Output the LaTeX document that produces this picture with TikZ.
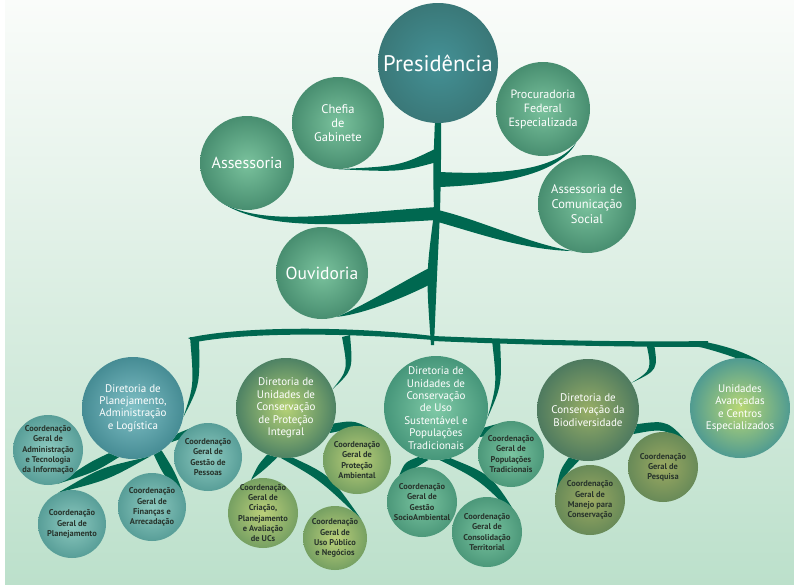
\documentclass[tikz,border=0pt]{standalone}
\usepackage{fontspec}
\setmainfont{PT Sans}
\usetikzlibrary{backgrounds}

\definecolor{brgreen}{RGB}{0,104,80}
\definecolor{bgtop}{RGB}{250,252,250}
\definecolor{bgbot}{RGB}{188,224,203}
\definecolor{txtdark}{RGB}{40,52,44}
\definecolor{presin}{RGB}{68,145,150}
\definecolor{presout}{RGB}{58,120,120}
\definecolor{topin}{RGB}{122,194,157}
\definecolor{topout}{RGB}{72,142,112}
\definecolor{dplin}{RGB}{128,192,198}
\definecolor{dplout}{RGB}{70,140,148}
\definecolor{sbtin}{RGB}{142,202,192}
\definecolor{sbtout}{RGB}{88,158,152}
\definecolor{dpiin}{RGB}{182,210,118}
\definecolor{dpiout}{RGB}{78,130,100}
\definecolor{sboin}{RGB}{188,208,122}
\definecolor{sboout}{RGB}{118,160,98}
\definecolor{dusin}{RGB}{128,202,167}
\definecolor{dusout}{RGB}{70,150,122}
\definecolor{sbgin}{RGB}{122,196,160}
\definecolor{sbgout}{RGB}{76,152,122}
\definecolor{dbioin}{RGB}{152,174,102}
\definecolor{dbioout}{RGB}{78,122,95}
\definecolor{sbbin}{RGB}{156,170,98}
\definecolor{sbbout}{RGB}{104,138,88}
\definecolor{unidin}{RGB}{186,216,116}
\definecolor{unidout}{RGB}{80,155,145}

\begin{document}
\begin{tikzpicture}[x=1pt,y=-1pt,
	ball/.style={circle,inner sep=-15pt,align=center,text=white},
	topball/.style={ball,inner color=topin,outer color=topout,font=\fontsize{12.5}{14}\selectfont},
	dirball/.style={ball,font=\fontsize{11}{12.4}\selectfont},
	subball/.style={ball,text=txtdark,font=\bfseries\fontsize{8.4}{10.2}\selectfont},
	branch/.style={fill=brgreen}]
	\useasboundingbox (0,0) rectangle (794,584);
	\begin{scope}[on background layer]
	\fill[white] (0,0) rectangle (794,584);
	\shade[top color=bgtop,bottom color=bgbot] (5,0) rectangle (794,584);
	\end{scope}
	
	\node[ball,minimum size=120pt,inner color=presin,outer color=presout,font=\fontsize{22.5}{24}\selectfont] (pres) at (438,63) {Presidência};
	\node[topball,minimum size=92pt] (chefia) at (338,123) {Chefia\\de\\Gabinete};
	\node[topball,minimum size=94pt,font=\fontsize{16}{18}\selectfont] (asses) at (247,163) {Assessoria};
	\node[topball,minimum size=94pt,font=\fontsize{12}{14}\selectfont] (procur) at (543,109) {Procuradoria\\Federal\\Especializada};
	\node[topball,minimum size=98pt,font=\fontsize{12.5}{15}\selectfont] (ascom) at (587,204) {Assessoria de\\Comunicação\\Social};
	\node[topball,minimum size=92pt,font=\fontsize{17.5}{19}\selectfont] (ouvid) at (322,273) {Ouvidoria};
	
	\node[dirball,minimum size=102pt,inner color=dplin,outer color=dplout] (dplan) at (133,408) {Diretoria de\\Planejamento,\\Administração\\e Logística};
	\node[dirball,minimum size=100pt,inner color=dpiin,outer color=dpiout] (dpi) at (286,408) {Diretoria de\\Unidades de\\Conservação\\de Proteção\\Integral};
	\node[dirball,minimum size=104pt,inner color=dusin,outer color=dusout] (dus) at (436,408) {Diretoria de\\Unidades de\\Conservação\\de Uso\\Sustentável e\\Populações\\Tradicionais};
	\node[dirball,minimum size=102pt,inner color=dbioin,outer color=dbioout] (dbio) at (588,410) {Diretoria de\\Conservação da\\Biodiversidade};
	\node[dirball,minimum size=100pt,inner color=unidin,outer color=unidout] (unid) at (740,408) {Unidades\\Avançadas\\e Centros\\Especializados};
	
	\node[subball,minimum size=70pt,inner color=sbtin,outer color=sbtout] (cgti) at (48,450) {Coordenação\\Geral de\\Administração\\e Tecnologia\\da Informação};
	\node[subball,minimum size=68pt,inner color=sbtin,outer color=sbtout] (cgplan) at (72,524) {Coordenação\\Geral de\\Planejamento};
	\node[subball,minimum size=68pt,inner color=sbtin,outer color=sbtout] (cgfin) at (152,507) {Coordenação\\Geral de\\Finanças e\\Arrecadação};
	\node[subball,minimum size=68pt,inner color=sbtin,outer color=sbtout] (cgpes) at (208,457) {Coordenação\\Geral de\\Gestão de\\Pessoas};
	\node[subball,minimum size=68pt,inner color=sboin,outer color=sboout] (cgpa) at (357,460) {Coordenação\\Geral de\\Proteção\\Ambiental};
	\node[subball,minimum size=70pt,inner color=sboin,outer color=sboout] (cgcri) at (263,513) {Coordenação\\Geral de\\Criação,\\Planejamento\\e Avaliação\\de UCs};
	\node[subball,minimum size=64pt,inner color=sboin,outer color=sboout] (cgupn) at (335,538) {Coordenação\\Geral de\\Uso Público\\e Negócios};
	\node[subball,minimum size=66pt,inner color=sbgin,outer color=sbgout] (cgpop) at (511,454) {Coordenação\\Geral de\\Populações\\Tradicionais};
	\node[subball,minimum size=70pt,inner color=sbgin,outer color=sbgout] (cggsa) at (422,502) {Coordenação\\Geral de\\Gestão\\SocioAmbiental};
	\node[subball,minimum size=70pt,inner color=sbgin,outer color=sbgout] (cgct) at (487,532) {Coordenação\\Geral de\\Consolidação\\Territorial};
	\node[subball,minimum size=70pt,inner color=sbbin,outer color=sbbout] (cgpesq) at (663,467) {Coordenação\\Geral de\\Pesquisa};
	\node[subball,minimum size=70pt,inner color=sbbin,outer color=sbbout] (cgman) at (590,500) {Coordenação\\Geral de\\Manejo para\\Conservação};
	
	\begin{scope}[on background layer]
	\fill[branch] (pres.-93) .. controls (433,170) .. (434,213) .. controls (426,275) .. (431,345) -- (434,345) .. controls (437,275) .. (440,213) .. controls (441,170) .. (pres.-87) -- cycle;
	\fill[branch] (437,148) .. controls (400,166) .. (chefia.-90) .. controls (400,172) .. (437,162) -- cycle;
	\fill[branch] (440,172) .. controls (520,176) and (560,165) .. (procur.-45) .. controls (560,172) and (510,184) .. (440,187) -- cycle;
	\fill[branch] (437,207) .. controls (330,214) and (260,228) .. (asses.-128) .. controls (260,230) and (330,226) .. (437,220) -- cycle;
	\fill[branch] (438,210) .. controls (480,220) and (530,244) .. (ascom.-107) .. controls (525,250) and (480,234) .. (438,222) -- cycle;
	\fill[branch] (433,266) .. controls (400,283) and (360,308) .. (ouvid.-72) .. controls (365,314) and (405,297) .. (431,284) -- cycle;
	
	\fill[branch] (188,338) .. controls (240,326) and (350,326) .. (433,336) -- (433,340) .. controls (350,333) and (250,332) .. (196,342) -- cycle;
	\fill[branch] (433,336) .. controls (550,341) and (650,342) .. (708,341) -- (708,347) .. controls (650,347) and (550,346) .. (433,341) -- cycle;
	\fill[branch] (700,341) .. controls (740,348) and (770,362) .. (unid.30) .. controls (765,368) and (735,356) .. (700,347) -- cycle;
	\fill[branch] (190,337) .. controls (194,385) .. (dplan.-10) .. controls (200,385) .. (199,337) -- cycle;
	\fill[branch] (342,337) .. controls (348,370) .. (dpi.22) .. controls (353,370) .. (350,335) -- cycle;
	\fill[branch] (492,340) .. controls (497,385) .. (dus.-12) .. controls (502,385) .. (500,340) -- cycle;
	\fill[branch] (646,342) .. controls (652,370) .. (dbio.32) .. controls (658,370) .. (654,343) -- cycle;
	
	\fill[branch] (dplan.-118) .. controls (90,462) .. (cgti.-75) .. controls (95,472) .. (dplan.-106) -- cycle;
	\fill[branch] (dplan.-82) .. controls (100,468) .. (cgplan.114) .. controls (108,480) .. (dplan.-70) -- cycle;
	\fill[branch] (dplan.-66) .. controls (165,478) .. (cgfin.25) .. controls (175,472) .. (dplan.-56) -- cycle;
	\fill[branch] (dplan.-42) .. controls (200,432) .. (cgpes.55) .. controls (200,424) .. (dplan.-30) -- cycle;
	\fill[branch] (dpi.-30) .. controls (355,428) .. (cgpa.50) .. controls (355,420) .. (dpi.-18) -- cycle;
	\fill[branch] (dpi.-112) .. controls (258,465) .. (cgcri.110) .. controls (264,470) .. (dpi.-100) -- cycle;
	\fill[branch] (dpi.-96) .. controls (320,480) .. (cgupn.35) .. controls (330,475) .. (dpi.-82) -- cycle;
	\fill[branch] (dus.-34) .. controls (505,432) .. (cgpop.25) .. controls (510,420) .. (dus.-22) -- cycle;
	\fill[branch] (dus.-110) .. controls (405,462) .. (cggsa.130) .. controls (412,470) .. (dus.-98) -- cycle;
	\fill[branch] (dus.-86) .. controls (480,480) .. (cgct.18) .. controls (492,475) .. (dus.-74) -- cycle;
	\fill[branch] (dbio.-28) .. controls (665,428) .. (cgpesq.30) .. controls (668,420) .. (dbio.-16) -- cycle;
	\fill[branch] (dbio.-112) .. controls (560,470) .. (cgman.165) .. controls (565,475) .. (dbio.-100) -- cycle;
	\end{scope}
\end{tikzpicture}
\end{document}
